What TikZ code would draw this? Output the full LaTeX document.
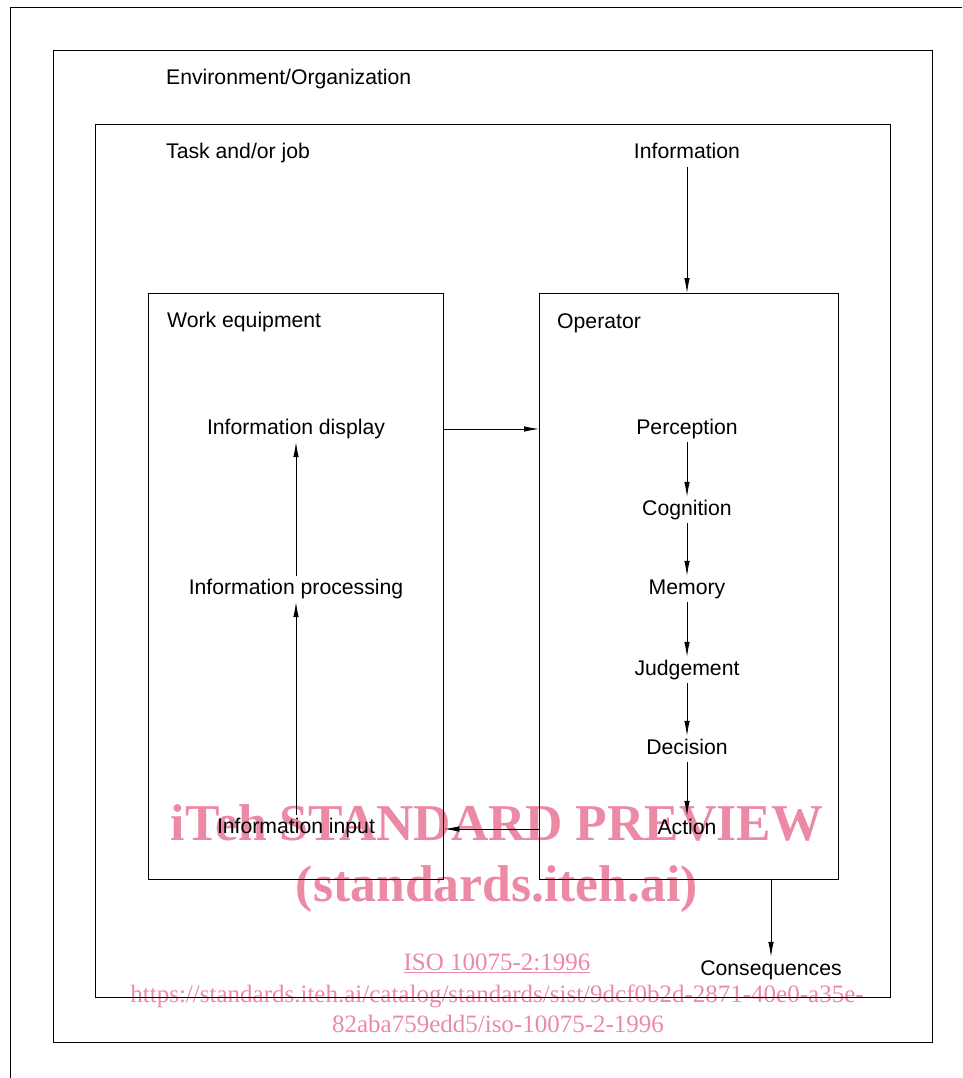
\documentclass[tikz,border=0pt]{standalone}
\usepackage{fontspec}
\setmainfont{Liberation Sans}
\newfontfamily\wmfont{Liberation Serif}
\usetikzlibrary{arrows.meta, positioning}
\definecolor{wmpink}{RGB}{236,137,165}

\begin{document}
\begin{tikzpicture}[x=1pt, y=-1pt,
  box/.style={draw, line width=1.3pt, anchor=north west, inner sep=0pt},
  title/.style={anchor=base west, inner sep=0pt,
    font=\fontsize{21.2}{25}\selectfont},
  item/.style={anchor=base, inner sep=3pt, text height=15pt, text depth=5pt,
    font=\fontsize{21.2}{25}\selectfont},
  arrow/.style={-{Latex[length=15pt, width=5.5pt]}, line width=0.8pt},
  wmark/.style={anchor=base, inner sep=0pt, text=wmpink,
    font=\wmfont\bfseries\fontsize{51.7}{60}\selectfont},
  wsmall/.style={anchor=base, inner sep=0pt, text=wmpink,
    font=\wmfont\fontsize{25}{30}\selectfont}
]
\useasboundingbox (0,0) rectangle (962,1078);

% watermark, behind the drawing
\node[wmark] (wmA) at (497,840) {iTeh STANDARD PREVIEW};
\node[wmark] (wmB) at (497,901) {(standards.iteh.ai)};
\node[wsmall] (wmC) at (497,970) {\underline{ISO 10075-2:1996}};
\node[wsmall] (wmD) at (497,1002)
  {https://standards.iteh.ai/catalog/standards/sist/9dcf0b2d-2871-40e0-a35e-};
\node[wsmall] (wmE) at (498,1032) {82aba759edd5/iso-10075-2-1996};

% page frame
\draw[line width=1pt] (10,1078) -- (10,8) -- (962,8);

% nested boxes
\node[box, minimum width=879pt, minimum height=992pt] (env) at (53,50) {};
\node[box, minimum width=795pt, minimum height=873pt] (task) at (95,124) {};
\node[box, minimum width=295pt, minimum height=586pt] (equip) at (148,293) {};
\node[box, minimum width=299pt, minimum height=586pt] (oper) at (539,293) {};

\node[title] (envT) at (166,85) {Environment/Organization};
\node[title] (taskT) at (166,159) {Task and/or job};
\node[title] (equipT) at (167,327) {Work equipment};
\node[title] (operT) at (557,328) {Operator};

% work equipment
\node[item] (disp) at (296,434) {Information display};
\node[item] (proc) at (296,594) {Information processing};
\node[item] (inp) at (296,833) {Information input};

\draw[arrow] (inp) -- (proc);
\draw[arrow] (proc) -- (disp);

% operator
\node[item] (info) at (687,159) {Information};
\node[item] (perc) at (687,434) {Perception};
\node[item] (cogn) at (687,515) {Cognition};
\node[item] (memo) at (687,594) {Memory};
\node[item] (judg) at (687,675) {Judgement};
\node[item] (deci) at (687,754) {Decision};
\node[item] (acti) at (687,834) {Action};
\node[item] (cons) at (771,975) {Consequences};

\foreach \a/\b in {perc/cogn, cogn/memo, memo/judg, judg/deci, deci/acti}
  \draw[arrow] (\a) -- (\b);

\draw[arrow] (info) -- (info |- oper.north);
\draw[arrow] (equip.east |- disp) -- (oper.west |- disp);
\draw[arrow] (oper.west |- acti) -- (equip.east |- acti);
\draw[arrow] (oper.south -| cons) -- (cons);
\end{tikzpicture}
\end{document}
